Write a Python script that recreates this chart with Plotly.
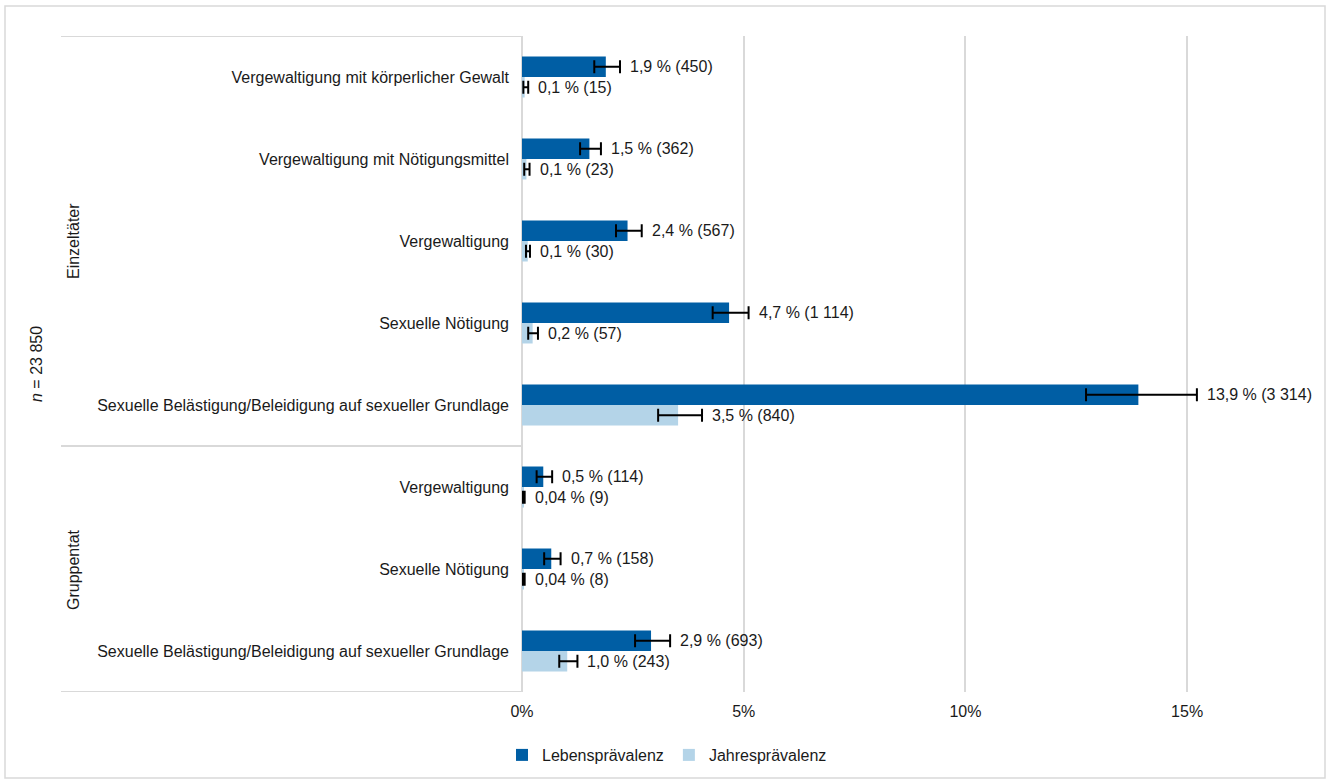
import plotly.graph_objects as go

categories = [
    "Vergewaltigung mit körperlicher Gewalt",
    "Vergewaltigung mit Nötigungsmittel",
    "Vergewaltigung",
    "Sexuelle Nötigung",
    "Sexuelle Belästigung/Beleidigung auf sexueller Grundlage",
    "Vergewaltigung",
    "Sexuelle Nötigung",
    "Sexuelle Belästigung/Beleidigung auf sexueller Grundlage",
]
groups = ["Einzeltäter", "Gruppentat"]
group_sizes = [5, 3]

leben = [1.89, 1.52, 2.38, 4.67, 13.9, 0.48, 0.66, 2.91]
leben_lo = [1.63, 1.31, 2.12, 4.30, 12.72, 0.33, 0.50, 2.55]
leben_hi = [2.21, 1.78, 2.70, 5.11, 15.22, 0.68, 0.87, 3.34]
leben_labels = ["1,9 % (450)", "1,5 % (362)", "2,4 % (567)", "4,7 % (1 114)",
                "13,9 % (3 314)", "0,5 % (114)", "0,7 % (158)", "2,9 % (693)"]

jahr = [0.06, 0.10, 0.13, 0.24, 3.52, 0.04, 0.03, 1.02]
jahr_lo = [0.03, 0.05, 0.09, 0.14, 3.07, 0.02, 0.02, 0.84]
jahr_hi = [0.14, 0.17, 0.18, 0.36, 4.06, 0.06, 0.06, 1.25]
jahr_labels = ["0,1 % (15)", "0,1 % (23)", "0,1 % (30)", "0,2 % (57)",
               "3,5 % (840)", "0,04 % (9)", "0,04 % (8)", "1,0 % (243)"]

x_ticks = [0, 5, 10, 15]
x_ticktext = ["0%", "5%", "10%", "15%"]

DARK = "#005EA4"
LIGHT = "#B4D4E8"
GRID = "#D9D9D9"
FONT = "Liberation Sans, Arial, sans-serif"
TXT = "#1a1a1a"
FS = 16

ypos = list(range(len(categories)))

fig = go.Figure()
fig.add_trace(go.Bar(
    name="Lebensprävalenz", y=ypos, x=leben, orientation="h",
    marker=dict(color=DARK, line=dict(width=0)),
    error_x=dict(type="data", symmetric=False,
                 array=[h - v for h, v in zip(leben_hi, leben)],
                 arrayminus=[v - l for v, l in zip(leben, leben_lo)],
                 color="black", thickness=2, width=6.5),
))
fig.add_trace(go.Bar(
    name="Jahresprävalenz", y=ypos, x=jahr, orientation="h",
    marker=dict(color=LIGHT, line=dict(width=0)),
    error_x=dict(type="data", symmetric=False,
                 array=[h - v for h, v in zip(jahr_hi, jahr)],
                 arrayminus=[v - l for v, l in zip(jahr, jahr_lo)],
                 color="black", thickness=2, width=6.5),
))

# data labels after the error bars
for i in ypos:
    fig.add_annotation(x=leben_hi[i], y=i - 0.125, xref="x", yref="y",
                       text=leben_labels[i], showarrow=False, xanchor="left",
                       yanchor="middle", xshift=8,
                       font=dict(size=FS, color=TXT, family=FONT))
    fig.add_annotation(x=jahr_hi[i], y=i + 0.125, xref="x", yref="y",
                       text=jahr_labels[i], showarrow=False, xanchor="left",
                       yanchor="middle", xshift=8,
                       font=dict(size=FS, color=TXT, family=FONT))

# plot geometry helpers (pixels)
L, R, T, B = 522, 1298, 36, 692
W, H = R - L, B - T
def px(xp):
    return (xp - L) / W
def py(yp):
    return (B - yp) / H

# group separator lines
bounds = [-0.5]
for s in group_sizes:
    bounds.append(bounds[-1] + s)
for b in bounds:
    fig.add_shape(type="line", xref="paper", yref="y", x0=px(61), x1=0,
                  y0=b, y1=b, line=dict(color=GRID, width=2))

# group labels
start = -0.5
for g, s in zip(groups, group_sizes):
    fig.add_annotation(x=px(73), y=start + s / 2, xref="paper", yref="y",
                       text=g, textangle=-90, showarrow=False,
                       xanchor="center", yanchor="middle",
                       font=dict(size=FS, color=TXT, family=FONT))
    start += s

fig.add_annotation(x=px(36), y=3.5, xref="paper", yref="y",
                   text="<i>n</i> = 23 850", textangle=-90, showarrow=False,
                   xanchor="center", yanchor="middle",
                   font=dict(size=FS, color=TXT, family=FONT))

# outer border
fig.add_shape(type="rect", xref="paper", yref="paper",
              x0=px(5), x1=px(1325), y0=py(778), y1=py(6),
              line=dict(color=GRID, width=1.5))

fig.update_layout(
    width=1327, height=780,
    margin=dict(l=L, r=1327 - R, t=T, b=780 - B, autoexpand=False),
    paper_bgcolor="white", plot_bgcolor="white",
    barmode="group", bargap=0.5, bargroupgap=0,
    font=dict(family=FONT, size=FS, color=TXT),
    showlegend=True,
    legend=dict(orientation="h", x=px(502), xanchor="left",
                y=py(755), yanchor="middle", itemwidth=30,
                font=dict(size=FS, color=TXT, family=FONT),
                traceorder="normal"),
    xaxis=dict(range=[0, 17.5], tickvals=x_ticks, ticktext=x_ticktext,
               showgrid=True, gridcolor=GRID, gridwidth=2,
               zeroline=True, zerolinecolor=GRID, zerolinewidth=2,
               showline=False, ticks="", tickfont=dict(size=FS),
               ticklabelstandoff=8, automargin=False),
    yaxis=dict(tickvals=ypos, ticktext=categories,
               autorange=False, range=[7.5, -0.5],
               showgrid=False, zeroline=False,
               showline=False, ticks="", ticklabelstandoff=12,
               tickfont=dict(size=FS), automargin=False),
)

fig.write_html("out.html",
               config={"displayModeBar": False},
               post_script="document.body.style.margin='0px';"
                           "document.body.style.overflow='hidden';")
